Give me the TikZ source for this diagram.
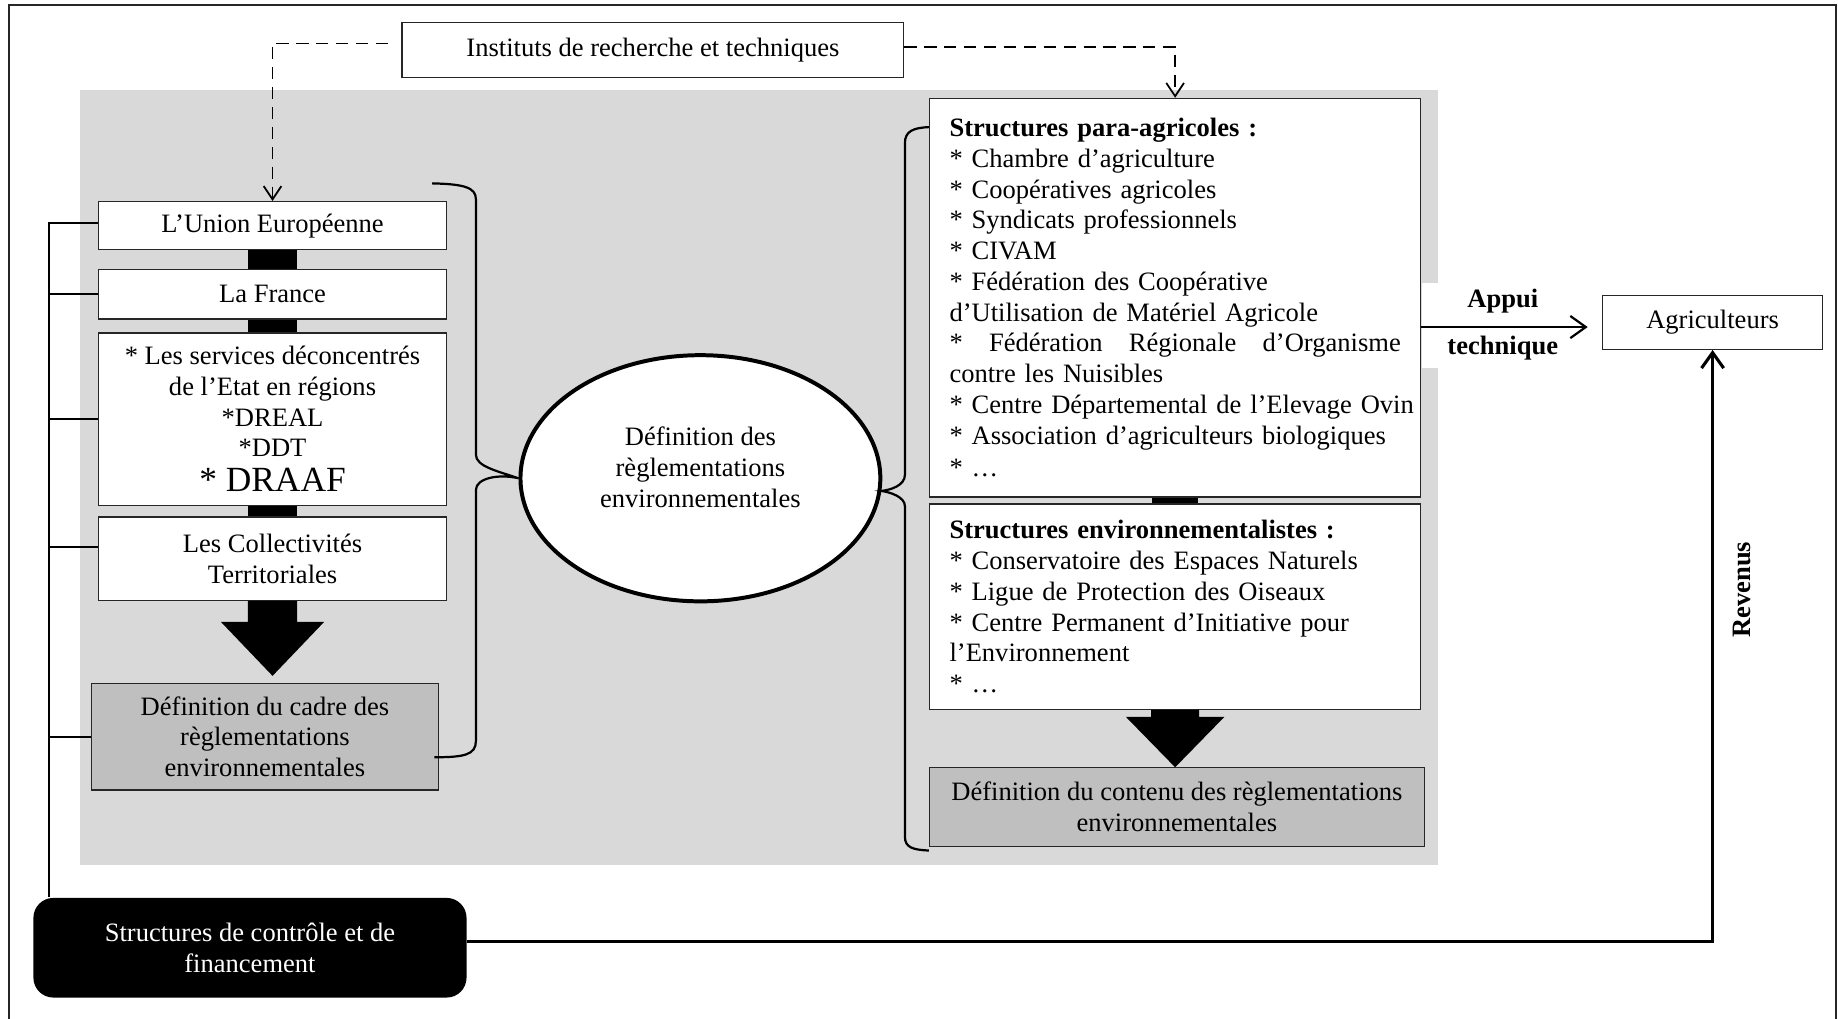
\documentclass[tikz,border=0pt]{standalone}
\usepackage{fontspec}
\setmainfont{Liberation Serif}
\usetikzlibrary{arrows.meta,shapes.geometric,calc}
\begin{document}
\begin{tikzpicture}[x=0.53pt,y=-0.53pt,
  every node/.style={font=\fontsize{12}{13.9}\selectfont},
  span/.style n args={4}{minimum width={(#3-#1)*0.53pt}, minimum height={(#4-#2)*0.53pt}, at={({(#1+#3)/2},{(#2+#4)/2})}},
  box/.style={draw=black!85, line width=0.6pt, fill=white, inner sep=0pt, align=center},
  greybox/.style={box, fill=black!25},
  listbox/.style={box, text width=222pt, align=left},
  conn/.style={line width=1pt},
  thickconn/.style={line width=1.4pt},
  barline/.style={line width=22pt},
  dasharrow/.style={line width=0.8pt, dash pattern=on 5.5pt off 3.5pt, -{Straight Barb[length=6pt,width=8pt]}},
  arrowV/.style={-{Straight Barb[length=7pt,width=10pt]}},
  lbl/.style={font=\fontsize{12}{13.9}\selectfont\bfseries},
]
\useasboundingbox (0,0) rectangle (1568,869);
% outer frame (open at the bottom)
\draw[line width=1pt, black!85] (7.7,869) -- (7.7,4.3) -- (1566,4.3) -- (1566,869);
% grey background region
\fill[black!15] (68,77) rectangle (1227,738);
\fill[white] (1213.5,241) rectangle (1350,314);

% top box
\node[box, span={343}{19}{771}{66}] (inst) {Instituts de recherche et techniques};

% left column
\node[box, span={84}{172}{381}{213}] (ue) {L’Union Européenne};
\node[box, span={84}{230}{381}{272}] (fr) {La France};
\node[box, span={84}{284}{381}{431}] (srv) {* Les services déconcentrés\\de l’Etat en régions\\{}*DREAL\\{}*DDT\\[2pt]{\fontsize{16}{17}\selectfont * DRAAF}};
\node[box, span={84}{441}{381}{512}] (coll) {Les Collectivités\\Territoriales};
\node[greybox, span={78}{583}{374}{674}] (cadre) {Définition du cadre des\\règlementations\\environnementales};

\draw[barline] (ue.south) -- (fr.north);
\draw[barline] (fr.south) -- (srv.north);
\draw[barline] (srv.south) -- (coll.north);
\fill (coll.south) ++(-21,0) -- ++(42,0) -- ++(0,18) -- ++(23,0) -- ($(coll.south)+(0,64)$) -- ++(-44,-46) -- ++(23,0) -- cycle;

% central ellipse
\node[ellipse, draw, line width=1.8pt, fill=white, minimum width=162.7pt, minimum height=111.3pt, inner sep=0pt, align=center] (ell) at (597.5,408) {Définition des\\règlementations\\environnementales\\[-4pt]\mbox{}};

% right column
\node[listbox, span={793}{84}{1212}{424}] (para) {\leftskip=9pt \textbf{Structures para-agricoles :}\\{}%
* Chambre d’agriculture\\{}%
* Coopératives agricoles\\{}%
* Syndicats professionnels\\{}%
* CIVAM\\{}%
* Fédération des Coopérative\\
d’Utilisation de Matériel Agricole\\
\leavevmode\hbox to 204pt{*\hfill Fédération\hfill Régionale\hfill d’Organisme}\\
contre les Nuisibles\\{}%
* Centre Départemental de l’Elevage Ovin\\{}%
* Association d’agriculteurs biologiques\\[1pt]{}%
*~…\par};
\node[listbox, span={793}{430}{1212}{605}] (env) {\leftskip=9pt \textbf{Structures environnementalistes :}\\{}%
* Conservatoire des Espaces Naturels\\{}%
* Ligue de Protection des Oiseaux\\{}%
* Centre Permanent d’Initiative pour\\
l’Environnement\\{}%
*~…\par};
\node[greybox, span={793}{655}{1215}{722}] (cont) {Définition du contenu des règlementations\\environnementales};

\draw[line width=21pt] (para.south) -- (env.north);
\fill (env.south) ++(-20.5,0) -- ++(41,0) -- ++(0,6) -- ++(21.5,0) -- ($(env.south)+(0,49)$) -- ++(-42,-43) -- ++(21.5,0) -- cycle;

% braces
\coordinate (lbt) at ($(ue.north east)+(-13,-15)$);
\coordinate (lbb) at ($(cadre.east)+(-4,17.5)$);
\draw[conn] (lbt) .. controls (396,157) and (406,160) .. (406,170) -- (406,388) .. controls (406,398) and (425,402) .. (ell.west)
  .. controls (425,404) and (406,408) .. (406,418) -- (406,632) .. controls (406,644) and (396,646) .. (lbb);
\coordinate (rbt) at ($(para.north west)+(0,25)$);
\coordinate (rbb) at ($(cont.south west)+(0,3)$);
\draw[conn] (rbt) .. controls (779,109) and (772,112) .. (772,122) -- (772,405) .. controls (772,414) and (760,418) .. (ell.-4)
  .. controls (760,420) and (772,424) .. (772,432) -- (772,714) .. controls (772,723) and (779,725) .. (rbb);

% farmers
\node[box, span={1367}{252}{1555}{298}] (agri) {Agriculteurs};
\coordinate (ay) at (0,279);
\draw[conn, arrowV] (para.east |- ay) -- ($(agri.west |- ay)+(-12,0)$);
\node[lbl] (appui) at (1282,257) {Appui};
\node[lbl] (techn) at (1282,297) {technique};

% control structures
\node[fill=black, rounded corners=9pt, text=white, align=center, inner sep=0pt, span={28.5}{766}{398}{851}] (ctrl) {Structures de contrôle et de\\financement};
\coordinate (by) at (0,803.5);
\draw[thickconn, arrowV] (ctrl.east |- by) -| (agri.south);
\node[lbl, rotate=90] (rev) at (1486,503) {Revenus};

\coordinate (trunk) at ($(ctrl.north west)+(13.5,0)$);
\draw[conn] (trunk) |- ($(ue.west)+(0,-2)$);
\draw[conn] (trunk |- fr.west) -- (fr.west);
\draw[conn] (trunk |- srv.west) -- (srv.west);
\draw[conn] ($(trunk |- coll.west)+(0,-10)$) -- ($(coll.west)+(0,-10)$);
\draw[conn] (trunk |- cadre.west) -- (cadre.west);

% dashed arrows from the institutes
\draw[dasharrow, shorten <=6pt] ([yshift=2.9pt]inst.west) -| (ue.north);
\draw[dasharrow] ([yshift=1.3pt]inst.east) -| (para.north);
\end{tikzpicture}
\end{document}
